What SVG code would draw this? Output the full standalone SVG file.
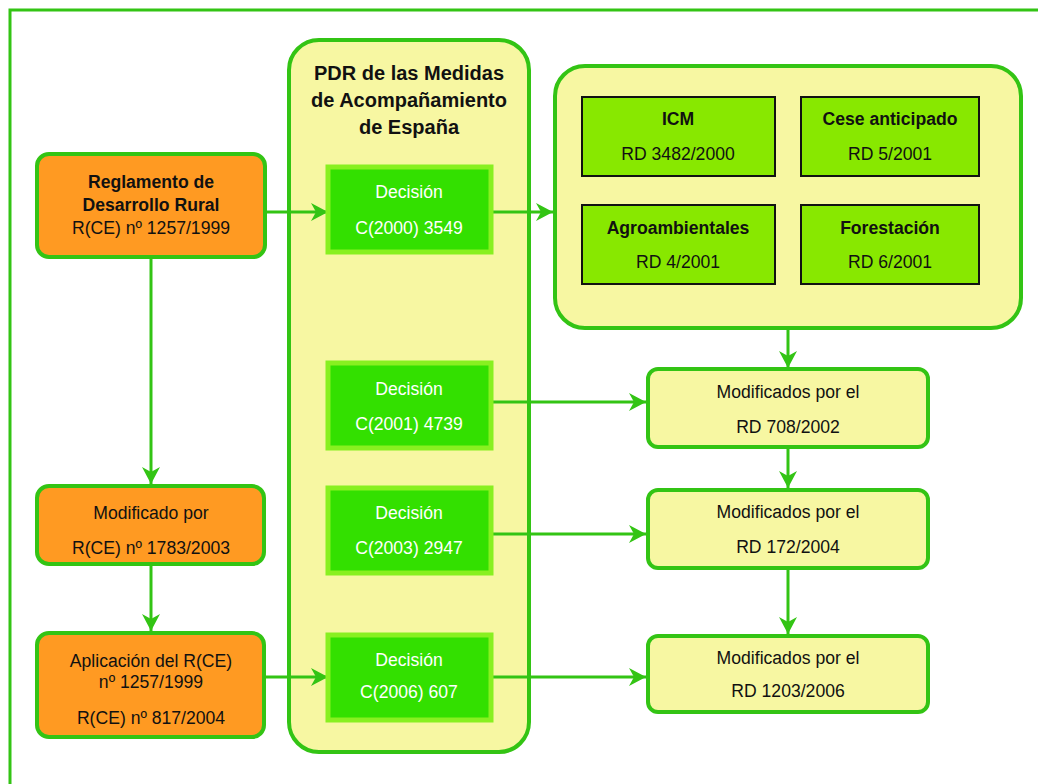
<svg xmlns="http://www.w3.org/2000/svg" width="1038" height="784" viewBox="0 0 1038 784">
<style>
text{font-family:"Liberation Sans",Arial,sans-serif;font-size:17.6px;text-anchor:middle;fill:#111}
.b{font-weight:bold}
.w{fill:#fff}
.t{font-size:20px;font-weight:bold}
.org{fill:#ff9a22;stroke:#33c414;stroke-width:4}
.yel{fill:#f7f7a2;stroke:#33c414;stroke-width:4}
.dec{fill:#33e000;stroke:#88f020;stroke-width:5}
.lime{fill:#88e800;stroke:#111;stroke-width:2}
.c{fill:none;stroke:#33c414;stroke-width:3}
</style>
<defs>
<marker id="ah" markerUnits="userSpaceOnUse" markerWidth="20" markerHeight="20" refX="17" refY="9" orient="auto">
<path d="M0,0 L17,9 L0,18 L5,9 z" fill="#33c414"/>
</marker>
</defs>
<rect width="1038" height="784" fill="#fff"/>
<g id="frame">
<path d="M10,784 V10 H1038" fill="none" stroke="#33c414" stroke-width="3"/>
</g>
<g id="pdr">
<rect class="yel" x="289" y="40" width="240" height="712" rx="30"/>
<text class="t" x="409" y="80">PDR de las Medidas</text>
<text class="t" x="409" y="107">de Acompañamiento</text>
<text class="t" x="409" y="134">de España</text>
</g>
<g id="medidas">
<rect class="yel" x="555" y="66" width="466" height="262" rx="30"/>
</g>
<g id="connectors">
<line class="c" x1="265" y1="212" x2="328" y2="212" marker-end="url(#ah)"/>
<line class="c" x1="491" y1="212" x2="553" y2="212" marker-end="url(#ah)"/>
<line class="c" x1="151" y1="258" x2="151" y2="484" marker-end="url(#ah)"/>
<line class="c" x1="151" y1="565" x2="151" y2="631" marker-end="url(#ah)"/>
<line class="c" x1="265" y1="677" x2="328" y2="677" marker-end="url(#ah)"/>
<line class="c" x1="491" y1="402" x2="646" y2="402" marker-end="url(#ah)"/>
<line class="c" x1="491" y1="534" x2="646" y2="534" marker-end="url(#ah)"/>
<line class="c" x1="491" y1="677" x2="646" y2="677" marker-end="url(#ah)"/>
<line class="c" x1="788" y1="329" x2="788" y2="368" marker-end="url(#ah)"/>
<line class="c" x1="788" y1="448" x2="788" y2="488" marker-end="url(#ah)"/>
<line class="c" x1="788" y1="569" x2="788" y2="634" marker-end="url(#ah)"/>
</g>
<g id="reglamento">
<rect class="org" x="37" y="154" width="228" height="103" rx="12"/>
<text class="b" x="151" y="188">Reglamento de</text>
<text class="b" x="151" y="211">Desarrollo Rural</text>
<text x="151" y="234">R(CE) nº 1257/1999</text>
</g>
<g id="modificado">
<rect class="org" x="37" y="486" width="227" height="78" rx="12"/>
<text x="151" y="519">Modificado por</text>
<text x="151" y="554">R(CE) nº 1783/2003</text>
</g>
<g id="aplicacion">
<rect class="org" x="37" y="633" width="227" height="104" rx="12"/>
<text x="151" y="667">Aplicación del R(CE)</text>
<text x="151" y="688">nº 1257/1999</text>
<text x="151" y="724">R(CE) nº 817/2004</text>
</g>
<g id="dec1">
<rect class="dec" x="328" y="167" width="163" height="85"/>
<text class="w" x="409" y="198">Decisión</text>
<text class="w" x="409" y="234">C(2000) 3549</text>
</g>
<g id="dec2">
<rect class="dec" x="328" y="363" width="163" height="85"/>
<text class="w" x="409" y="395">Decisión</text>
<text class="w" x="409" y="430">C(2001) 4739</text>
</g>
<g id="dec3">
<rect class="dec" x="328" y="488" width="163" height="85"/>
<text class="w" x="409" y="519">Decisión</text>
<text class="w" x="409" y="554">C(2003) 2947</text>
</g>
<g id="dec4">
<rect class="dec" x="328" y="635" width="163" height="85"/>
<text class="w" x="409" y="666">Decisión</text>
<text class="w" x="409" y="698">C(2006) 607</text>
</g>
<g id="icm">
<rect class="lime" x="582" y="97" width="193" height="79"/>
<text class="b" x="678" y="125">ICM</text>
<text x="678" y="160">RD 3482/2000</text>
</g>
<g id="cese">
<rect class="lime" x="801" y="97" width="178" height="79"/>
<text class="b" x="890" y="125">Cese anticipado</text>
<text x="890" y="160">RD 5/2001</text>
</g>
<g id="agro">
<rect class="lime" x="582" y="205" width="193" height="79"/>
<text class="b" x="678" y="234">Agroambientales</text>
<text x="678" y="268">RD 4/2001</text>
</g>
<g id="fores">
<rect class="lime" x="801" y="205" width="178" height="79"/>
<text class="b" x="890" y="234">Forestación</text>
<text x="890" y="268">RD 6/2001</text>
</g>
<g id="mod1">
<rect class="yel" x="648" y="369" width="280" height="78" rx="10"/>
<text x="788" y="398">Modificados por el</text>
<text x="788" y="433">RD 708/2002</text>
</g>
<g id="mod2">
<rect class="yel" x="648" y="490" width="280" height="78" rx="10"/>
<text x="788" y="518">Modificados por el</text>
<text x="788" y="553">RD 172/2004</text>
</g>
<g id="mod3">
<rect class="yel" x="648" y="636" width="280" height="76" rx="10"/>
<text x="788" y="664">Modificados por el</text>
<text x="788" y="697">RD 1203/2006</text>
</g>
</svg>
